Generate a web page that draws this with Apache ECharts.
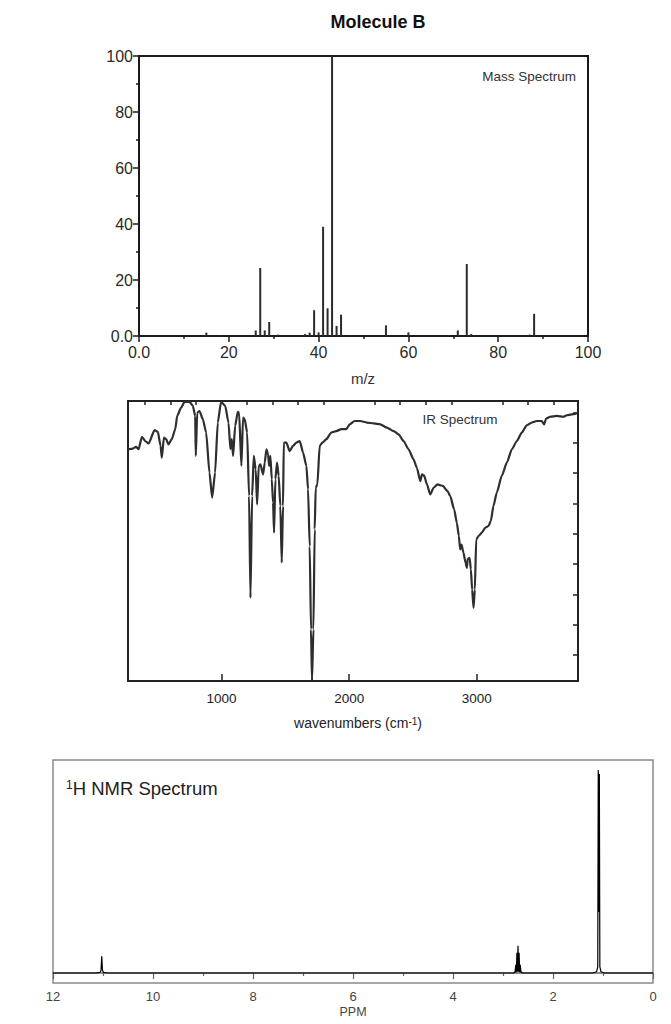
<!DOCTYPE html>
<html><head><meta charset="utf-8">
<script src="https://cdn.jsdelivr.net/npm/echarts@6/dist/echarts.min.js"></script>
<style>html,body{margin:0;padding:0;background:#fff}#c{width:671px;height:1024px}</style>
</head><body><div id="c"></div>
<script>
// ---- Mass spectrum ----
const massMz  = [15, 18, 26, 27, 28, 29, 31, 37, 38, 39, 40, 41, 42, 43, 44, 45, 47, 55, 60, 69, 71, 73, 74, 87, 88];
const massInt = [1.2, 0.3, 2.0, 24.3, 2.0, 5.0, 0.5, 0.7, 1.2, 9.2, 1.3, 39.0, 9.9, 100, 3.6, 7.6, 0.3, 3.8, 1.3, 0.3, 2.0, 25.7, 0.7, 0.5, 7.9];
const massTicks = [0, 20, 40, 60, 80, 100];

// ---- IR spectrum (wavenumber, transmittance) ----
const irWave = [270,306,332,351,377,403,429,476,502,523,533,549,567,585,611,638,653,684,711,750,776,794,799,810,828,854,880,906,927,950,971,997,1029,1055,1070,1081,1091,1107,1128,1138,1156,1169,1182,1201,1216,1227,1240,1253,1268,1279,1292,1305,1326,1339,1352,1365,1373,1383,1394,1404,1412,1422,1435,1448,1461,1472,1482,1488,1508,1534,1560,1587,1613,1639,1665,1678,1691,1701,1709,1720,1730,1738,1751,1769,1790,1821,1860,1899,1939,1978,2004,2043,2087,2139,2192,2244,2296,2348,2387,2426,2465,2504,2530,2557,2570,2588,2609,2635,2661,2692,2734,2770,2791,2822,2843,2859,2869,2880,2895,2911,2922,2927,2943,2953,2963,2974,2984,2995,3013,3039,3065,3091,3109,3130,3156,3195,3235,3274,3313,3352,3391,3430,3469,3508,3527,3542,3573,3626,3678,3704,3743,3782];
const irT = [77.9,78.1,78.7,77.9,82.0,80.6,79.8,84.2,83.6,79.0,75.1,81.7,81.2,79.5,81.2,84.5,88.9,91.6,93.5,93.5,92.2,88.9,75.7,90.0,90.5,87.8,83.4,70.2,61.9,70.2,86.7,93.5,92.2,86.7,77.9,81.2,75.7,85.6,90.2,90.0,72.4,88.3,87.8,83.4,62.5,28.9,62.5,75.7,71.3,59.7,72.4,72.9,69.6,73.5,77.9,76.2,72.4,75.7,68.0,60.3,50.4,68.0,73.5,69.1,59.2,40.5,59.2,80.1,80.1,77.3,79.0,80.1,80.6,76.8,72.4,64.7,45.9,18.5,1.6,18.5,51.5,65.2,66.3,79.0,80.1,81.2,83.4,83.9,84.5,84.5,86.1,87.2,87.2,86.7,86.4,86.1,85.0,83.9,82.8,80.6,77.9,74.6,71.8,67.4,69.6,69.1,66.3,63.0,65.2,66.3,65.8,64.1,62.5,58.1,53.7,49.3,44.9,46.5,43.8,40.5,38.8,41.6,42.1,38.3,31.6,25.6,31.6,48.2,49.3,50.4,52.0,52.6,54.2,59.2,63.6,69.1,73.5,77.9,80.6,83.4,85.8,86.7,87.2,87.2,86.1,88.0,88.6,88.9,88.6,89.1,89.4,89.7];
const irLabelTicks = [1000, 2000, 3000];
const irMinorTicks = [400,600,800,1200,1400,1600,1800,2200,2400,2600,2800,3200,3400,3600];
const irYTicks = [10, 20, 30, 40, 50, 60, 70, 80, 90];

// ---- 1H NMR spectrum ----
const nmrPpm = [12, 11.15, 11.06, 11.04, 11.025, 11.01, 10.99, 10.9, 2.80, 2.775, 2.768, 2.76, 2.745, 2.733, 2.722, 2.711, 2.70, 2.689, 2.678, 2.667, 2.655, 2.64, 2.632, 2.625, 2.60, 1.20, 1.13, 1.105, 1.095, 1.084, 1.073, 1.063, 1.04, 0.97, 0];
const nmrInt = [0, 0, 0.3, 1.2, 8.2, 1.2, 0.3, 0, 0, 0.2, 0.7, 0.2, 4.0, 0.4, 10, 0.6, 13.4, 0.6, 10, 0.4, 4.0, 0.2, 0.7, 0.2, 0, 0, 0.6, 3, 100, 30, 98, 3, 0.6, 0, 0];
const nmrTicks = [0, 2, 4, 6, 8, 10, 12];

const FONT = "'Liberation Sans', Arial, Helvetica, sans-serif";
const zip = (a, b) => a.map((v, i) => [v, b[i]]);
const fmt0 = v => (v === 0 ? '0.0' : String(v));
const plain = v => String(v);

const chart = echarts.init(document.getElementById('c'), null, { renderer: 'svg' });
chart.setOption({
  animation: false,
  backgroundColor: '#fff',
  textStyle: { fontFamily: FONT },
  grid: [
    { left: 139, top: 56, width: 449, height: 280, show: true, borderColor: '#1a1a1a', borderWidth: 2 },
    { left: 128, top: 401, width: 450, height: 280, show: true, borderColor: '#222', borderWidth: 2 },
    { left: 53, top: 760, width: 600, height: 223, show: true, borderColor: '#8a8a8a', borderWidth: 1.5 }
  ],
  xAxis: [
    { gridIndex: 0, type: 'value', min: 0, max: 100, interval: 20,
      axisLine: { show: true, lineStyle: { color: '#1a1a1a', width: 2 } },
      axisTick: { show: true, length: 6, lineStyle: { color: '#1a1a1a', width: 1.5 } },
      minorTick: { show: true, splitNumber: 2, length: 3, lineStyle: { color: '#1a1a1a', width: 1.5 } },
      axisLabel: { fontFamily: FONT, fontSize: 16, color: '#2a2a2a', margin: 8, formatter: fmt0 },
      splitLine: { show: false } },
    { gridIndex: 1, type: 'value', min: 268, max: 3792,
      axisLine: { show: true, lineStyle: { color: '#222', width: 2 } },
      axisTick: { show: true, inside: true, length: 7, customValues: irLabelTicks, lineStyle: { color: '#222', width: 1.5 } },
      axisLabel: { customValues: irLabelTicks, formatter: plain, fontFamily: FONT, fontSize: 13.5, color: '#222', margin: 10 },
      splitLine: { show: false } },
    { gridIndex: 1, type: 'value', min: 268, max: 3792,
      axisLine: { show: false },
      axisTick: { show: true, inside: true, length: 4, customValues: irMinorTicks, lineStyle: { color: '#222', width: 1.5 } },
      axisLabel: { show: false }, splitLine: { show: false } },
    { gridIndex: 2, type: 'value', min: 0, max: 12, interval: 2, inverse: true,
      axisLine: { show: true, lineStyle: { color: '#666', width: 1.5 } },
      axisTick: { show: true, length: 6, lineStyle: { color: '#666', width: 1.2 } },
      minorTick: { show: true, splitNumber: 2, length: 3, lineStyle: { color: '#666', width: 1.2 } },
      axisLabel: { fontFamily: FONT, fontSize: 13, color: '#444', margin: 7, formatter: plain },
      splitLine: { show: false } }
  ],
  yAxis: [
    { gridIndex: 0, type: 'value', min: 0, max: 100, interval: 20,
      axisLine: { show: true, lineStyle: { color: '#1a1a1a', width: 2 } },
      axisTick: { show: true, length: 6, lineStyle: { color: '#1a1a1a', width: 1.5 } },
      minorTick: { show: true, splitNumber: 2, length: 3, lineStyle: { color: '#1a1a1a', width: 1.5 } },
      axisLabel: { fontFamily: FONT, fontSize: 16, color: '#2a2a2a', margin: 6, formatter: fmt0 },
      splitLine: { show: false } },
    { gridIndex: 1, type: 'value', position: 'right', min: 1.5, max: 93.8,
      axisLine: { show: true, lineStyle: { color: '#222', width: 2 } },
      axisTick: { show: true, inside: true, length: 5, customValues: irYTicks, lineStyle: { color: '#222', width: 1.5 } },
      axisLabel: { show: false }, splitLine: { show: false } },
    { gridIndex: 2, type: 'value', min: -4.92, max: 104.9, show: false, splitLine: { show: false } }
  ],
  series: [
    { type: 'bar', xAxisIndex: 0, yAxisIndex: 0, data: zip(massMz, massInt), barWidth: 2,
      itemStyle: { color: '#2b2b2b' }, silent: true },
    { type: 'line', xAxisIndex: 1, yAxisIndex: 1, data: zip(irWave, irT), symbol: 'none',
      smooth: 0.2, smoothMonotone: 'x', lineStyle: { color: '#2e2e2e', width: 2.2 }, silent: true },
    { type: 'line', xAxisIndex: 3, yAxisIndex: 2, data: zip(nmrPpm, nmrInt), symbol: 'none',
      lineStyle: { color: '#000', width: 1.2 }, silent: true }
  ],
  graphic: [
    { type: 'text', style: { x: 378, y: 22, text: 'Molecule B', align: 'center', verticalAlign: 'middle',
      fontFamily: FONT, fontSize: 18, fontWeight: 'bold', fill: '#111' } },
    { type: 'text', style: { x: 576, y: 76, text: 'Mass Spectrum', align: 'right', verticalAlign: 'middle',
      fontFamily: FONT, fontSize: 13.5, fill: '#333' } },
    { type: 'text', style: { x: 363, y: 378, text: 'm/z', align: 'center', verticalAlign: 'middle',
      fontFamily: FONT, fontSize: 15, fill: '#333' } },
    { type: 'text', style: { x: 460, y: 419, text: 'IR Spectrum', align: 'center', verticalAlign: 'middle',
      fontFamily: FONT, fontSize: 13.5, fill: '#333' } },
    { type: 'text', style: { x: 358, y: 723, text: '{a|wavenumbers (cm}{s|-1}{a|)}', align: 'center', verticalAlign: 'middle',
      rich: { a: { fontFamily: FONT, fontSize: 14, fill: '#222', color: '#222' },
              s: { fontFamily: FONT, fontSize: 10, fill: '#222', color: '#222', verticalAlign: 'top' } } } },
    { type: 'text', style: { x: 66, y: 788, text: '{s|1}{a|H NMR Spectrum}', align: 'left', verticalAlign: 'middle',
      rich: { a: { fontFamily: FONT, fontSize: 18.5, fill: '#222', color: '#222' },
              s: { fontFamily: FONT, fontSize: 12, fill: '#222', color: '#222', verticalAlign: 'top' } } } },
    { type: 'text', style: { x: 353, y: 1012, text: 'PPM', align: 'center', verticalAlign: 'middle',
      fontFamily: FONT, fontSize: 12.5, fill: '#444' } }
  ]
});
</script></body></html>
